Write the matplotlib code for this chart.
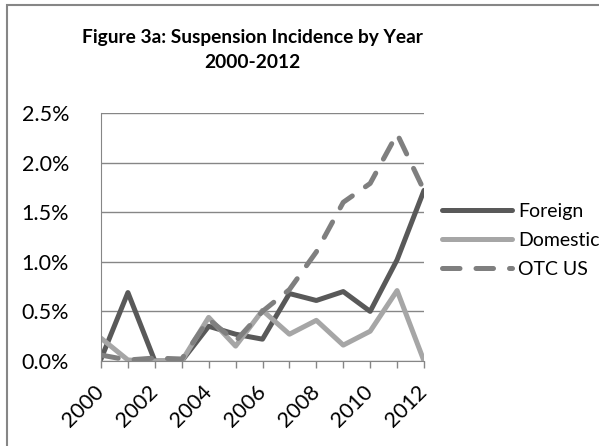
import matplotlib
matplotlib.use("Agg")
import matplotlib.pyplot as plt
from matplotlib.patches import Rectangle
from matplotlib.ticker import FuncFormatter

years = list(range(2000, 2013))
foreign = [0.02, 0.69, 0.0, 0.0, 0.35, 0.27, 0.22, 0.68, 0.61, 0.70, 0.50, 1.02, 1.72]
domestic = [0.23, 0.01, 0.0, 0.0, 0.44, 0.15, 0.51, 0.27, 0.41, 0.16, 0.30, 0.71, 0.0]
otc_us = [0.06, 0.01, 0.03, 0.02, 0.42, 0.20, 0.50, 0.72, 1.10, 1.60, 1.79, 2.29, 1.72]
yticks = [0.0, 0.5, 1.0, 1.5, 2.0, 2.5]
xlabels = [2000, 2002, 2004, 2006, 2008, 2010, 2012]

plt.rcParams['font.family'] = ['Lato', 'DejaVu Sans']

W, H = 599, 446
fig = plt.figure(figsize=(W / 100, H / 100), dpi=100)

# outer chart border (only left and top visible)
fig.patches.append(Rectangle((7 / W, -0.1), 1.2, 1.1 - 5 / H, transform=fig.transFigure,
                             fill=False, edgecolor='#868686', linewidth=1.5))

ax = fig.add_axes([101 / W, 1 - 361 / H, 323 / W, 248 / H])

ax.plot(years, foreign, color='#595959', lw=3.6, label='Foreign', solid_capstyle='round')
ax.plot(years, domestic, color='#a6a6a6', lw=3.6, label='Domestic', solid_capstyle='round')
ax.plot(years, otc_us, color='#7f7f7f', lw=3.6, label='OTC US', dashes=(3.5, 3.2),
        dash_capstyle='round')

ax.set_xlim(2000, 2012)
ax.set_ylim(0, 2.5)
ax.set_yticks(yticks)
ax.yaxis.set_major_formatter(FuncFormatter(lambda v, p: f"{v:.1f}%"))
ax.grid(axis='y', color='#868686', lw=1)
ax.set_axisbelow(True)

ax.set_xticks(years, minor=True)
ax.set_xticks(xlabels)
ax.set_xticklabels([str(y) for y in xlabels], rotation=45, ha='right', va='center',
                   rotation_mode='anchor', fontsize=15.5)
ax.tick_params(axis='x', which='both', length=5, color='#868686', width=1, pad=15)
ax.tick_params(axis='y', length=0, pad=23, labelsize=15.5)

for s in ['top', 'right']:
    ax.spines[s].set_visible(False)
ax.spines['left'].set_color('#868686')
ax.spines['bottom'].set_color('#868686')

fig.text(252 / W, 1 - 37 / H, 'Figure 3a: Suspension Incidence by Year', ha='center',
         va='center', fontsize=13.8, fontweight='bold')
fig.text(252 / W, 1 - 62 / H, '2000-2012', ha='center', va='center', fontsize=13.8,
         fontweight='bold')

fig.legend(loc='upper left', bbox_to_anchor=(442 / W, 1 - 203 / H), frameon=False,
           fontsize=14, handlelength=3.6, handletextpad=0.3, labelspacing=0.62,
           borderaxespad=0, borderpad=0)

fig.savefig('out.png', dpi=100)
